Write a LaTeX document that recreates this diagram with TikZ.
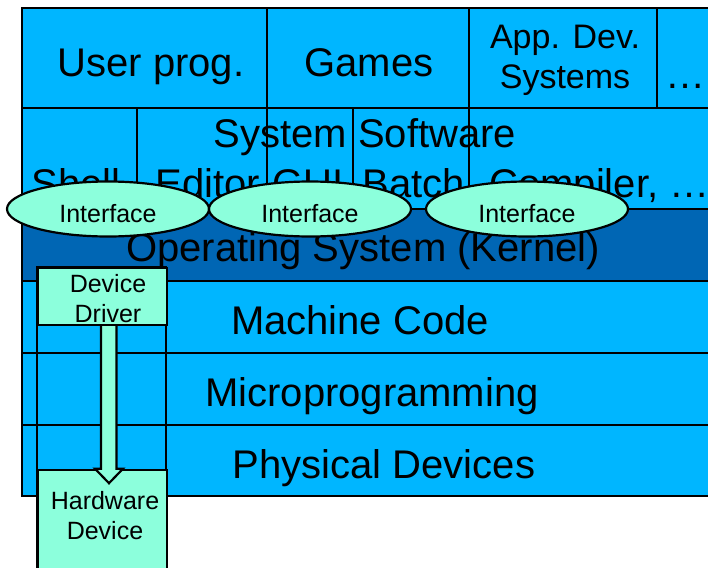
\documentclass[tikz,border=0pt]{standalone}
\usepackage{fontspec}
\setmainfont{Liberation Sans}
\usetikzlibrary{shapes.geometric,calc}
\definecolor{layerblue}{RGB}{0,182,255}
\definecolor{kernelblue}{RGB}{0,102,180}
\definecolor{mint}{RGB}{140,255,220}
\tikzset{
  line/.style={line width=1.1pt},
  layer/.style={line,draw=black,fill=layerblue},
  big/.style={font=\fontsize{20}{24}\selectfont,anchor=base,inner sep=0pt},
  mid/.style={font=\fontsize{17}{20}\selectfont,anchor=base,inner sep=0pt},
  small/.style={font=\fontsize{12.5}{15}\selectfont,align=center,inner sep=0pt},
  mintbox/.style={line,draw=black,fill=mint},
  iface/.style={ellipse,mintbox,minimum width=101pt,minimum height=27.5pt,inner sep=0pt,
    text height=13pt,text depth=0pt,font=\fontsize{12.5}{15}\selectfont}
}

\begin{document}
\begin{tikzpicture}[x=0.5pt,y=-0.5pt]
\useasboundingbox (0,0) rectangle (708,568);
% layers
\draw [layer] (22,8) rectangle (720,209);
\draw [layer,fill=kernelblue] (22,209) rectangle (720,281);
\draw [layer] (22,281) rectangle (720,496);
\draw [line] (22,108)--(720,108) (22,353)--(720,353) (22,425)--(720,425);
\draw [line] (267,8)--(267,209) (469,8)--(469,209) (657,8)--(657,108);
\draw [line] (137,108)--(137,209) (353,108)--(353,209);

\node [big] (user) at (151,76) {User prog.};
\node [big] (games) at (369,76) {Games};
\node [mid] (appdev) at (565,48) {App. Dev.};
\node [mid] (appsys) at (565,88) {Systems};
\node [big,anchor=base west] (more) at (665,88) {…};

\node [big] (syssw) at (365,147) {System Software};
\node [big,anchor=base west] (shell) at (31,197) {Shell};
\node [big,anchor=base west] (editor) at (155,197) {Editor};
\node [big,anchor=base west] (gui) at (272,197) {GUI};
\node [big,anchor=base west] (batch) at (362,197) {Batch};
\node [big,anchor=base west] (compiler) at (489,197) {Compiler, …};

\node [big] (kernel) at (363,261) {Operating System (Kernel)};
\node [big] (mcode) at (360,334) {Machine Code};
\node [big] (micro) at (372,406) {Microprogramming};
\node [big] (phys) at (384,478) {Physical Devices};

% driver column
\draw [line] (37,267) rectangle (166,590);
\node [mintbox,anchor=north west,minimum width=64.5pt,minimum height=65pt] (hw) at (37,468.7) {};
\node [small] at (105,516) {Hardware\\Device};
\coordinate (ax) at (109,324);
\draw [mintbox] ($(ax)+(-8,0)$) -- ($(ax |- hw.north)+(-8,0)$) -- ($(ax |- hw.north)+(-14,0)$)
  -- ($(ax |- hw.north)+(0,14.5)$) -- ($(ax |- hw.north)+(14,0)$) -- ($(ax |- hw.north)+(7.5,0)$) -- ($(ax)+(7.5,0)$);
\node [mintbox,anchor=north west,minimum width=64.5pt,minimum height=28.5pt] (driver) at (37,267) {};
\node [small] at (108,299) {Device\\Driver};

% interfaces
\node [iface] (if1) at (108,209) {Interface};
\node [iface] (if2) at (310,209) {Interface};
\node [iface] (if3) at (527,209) {Interface};
\end{tikzpicture}
\end{document}
